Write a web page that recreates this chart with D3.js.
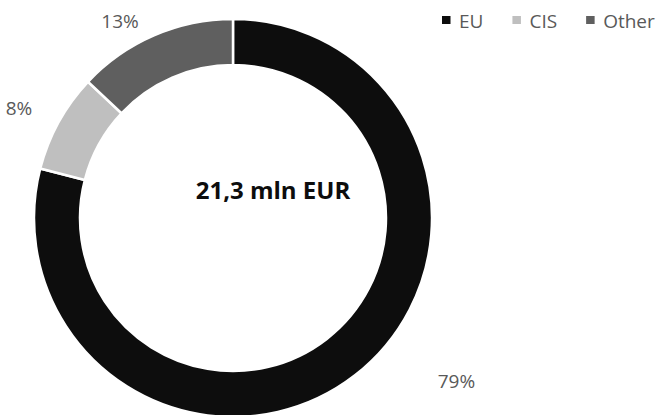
<!DOCTYPE html>
<html>
<head>
<meta charset="utf-8">
<script src="https://cdn.jsdelivr.net/npm/d3@7"></script>
<style>
  html, body { margin: 0; padding: 0; background: #fff; }
  svg { display: block; font-family: "Open Sans", sans-serif; }
</style>
</head>
<body>
<div id="chart"></div>
<script>
// Chart data
const categories = ['EU', 'CIS', 'Other'];
const shares = [79, 8, 13];
const colors = ['#0d0d0d', '#bfbfbf', '#5f5f5f'];
const totalLabel = '21,3 mln EUR';

// Layout
const width = 656;
const height = 415;
const cx = 233;
const cy = 218;
const outerR = 199;
const innerR = 153;
const labelR = 234;
// Hand-moved label offsets (as in the source chart)
const labelNudge = [[80, -22], [-9, 3], [-20, 18]];

const svg = d3.select('#chart').append('svg')
  .attr('width', width)
  .attr('height', height);

svg.append('rect')
  .attr('width', width)
  .attr('height', height)
  .attr('fill', '#fff');

const pie = d3.pie().sort(null).value(d => d);
const arcs = pie(shares);

const arc = d3.arc().innerRadius(innerR).outerRadius(outerR);
const labelArc = d3.arc().innerRadius(labelR).outerRadius(labelR);

const g = svg.append('g').attr('transform', `translate(${cx},${cy})`);

g.selectAll('path')
  .data(arcs)
  .join('path')
  .attr('d', arc)
  .attr('fill', (d, i) => colors[i])
  .attr('stroke', '#fff')
  .attr('stroke-width', 2.5);

// Percent labels
g.selectAll('text.pct')
  .data(arcs)
  .join('text')
  .attr('class', 'pct')
  .attr('x', (d, i) => labelArc.centroid(d)[0] + labelNudge[i][0])
  .attr('y', (d, i) => labelArc.centroid(d)[1] + labelNudge[i][1])
  .attr('text-anchor', 'middle')
  .attr('dominant-baseline', 'central')
  .attr('font-size', 19)
  .attr('fill', '#595959')
  .text(d => d.data + '%');

// Total in the middle (text box sits right of the hole centre)
g.append('text')
  .attr('x', 40)
  .attr('y', -28.5)
  .attr('text-anchor', 'middle')
  .attr('dominant-baseline', 'central')
  .attr('font-size', 24)
  .attr('font-weight', 'bold')
  .attr('fill', '#0d0d0d')
  .text(totalLabel);

// Legend
const legend = svg.append('g').attr('transform', 'translate(442,0)');
let lx = 0;
categories.forEach((name, i) => {
  const item = legend.append('g').attr('transform', `translate(${lx},0)`);
  item.append('rect')
    .attr('x', 0)
    .attr('y', 16)
    .attr('width', 8.5)
    .attr('height', 8)
    .attr('fill', colors[i]);
  const t = item.append('text')
    .attr('x', 17)
    .attr('y', 27.5)
    .attr('font-size', 19)
    .attr('fill', '#595959')
    .text(name);
  lx += 17 + t.node().getComputedTextLength() + 29;
});
</script>
</body>
</html>
